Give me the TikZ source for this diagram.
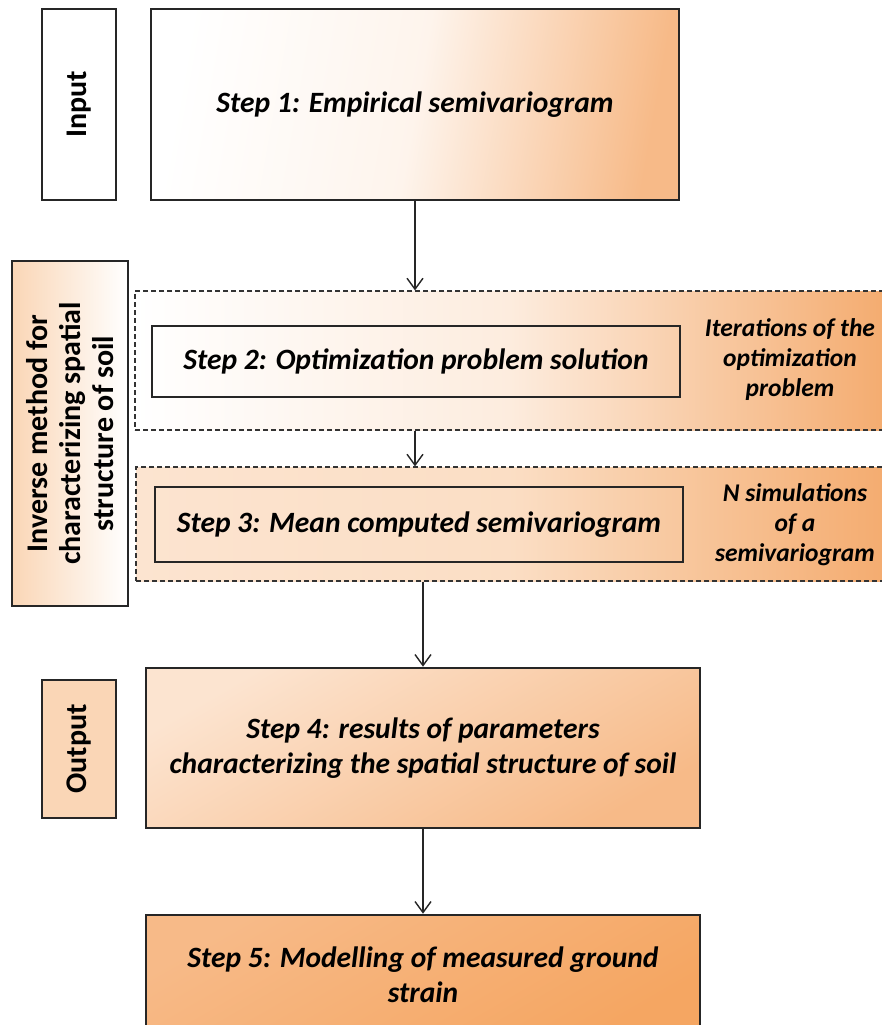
\documentclass[tikz,border=0pt]{standalone}
\usepackage{fontspec}
\setmainfont{Carlito}
\usetikzlibrary{arrows.meta}
\definecolor{peachA}{RGB}{247,186,136}
\definecolor{peachB}{RGB}{244,172,112}
\definecolor{peachL}{RGB}{252,228,208}
\definecolor{peachM}{RGB}{250,214,182}
\definecolor{peachD}{RGB}{245,166,98}
\begin{document}
\begin{tikzpicture}[x=1pt,y=-1pt,
  box/.style={draw=black!85,line width=2.6pt,align=center,inner sep=0pt},
  dbox/.style={draw=black!80,line width=1.2pt,dash pattern=on 5pt off 3pt,inner sep=0pt},
  steptxt/.style={font=\fontsize{29.5}{35}\selectfont\bfseries\itshape},
  sidetxt/.style={font=\fontsize{25.5}{30}\selectfont\bfseries\itshape,align=center},
  vtxt/.style={font=\fontsize{30}{33}\selectfont\bfseries},
  arr/.style={draw=black!85,line width=1.4pt,-{Straight Barb[length=11pt,width=16pt,line width=1.4pt]}}]
\clip (0,0) rectangle (882,1025);
\fill[white] (0,0) rectangle (882,1025);
% input
\node[box,vtxt,rotate=90,minimum width=191,minimum height=74] (input) at (79,104.5) {Input};
\node[box,steptxt,minimum width=528,minimum height=191,left color=white,right color=peachA,middle color=peachL!40,shading angle=80] (s1) at (415,104.5) {Step 1: Empirical semivariogram};
% inverse method
\node[box,vtxt,rotate=90,minimum width=345,minimum height=116,left color=peachM,right color=white,align=center] (inv) at (70,433.5) {Inverse method for\\characterizing spatial\\structure of soil};
% dashed groups
\node[dbox,minimum width=749,minimum height=139,left color=white,right color=peachB,middle color=peachL!70] (d1) at (509.5,360.5) {};
\node[box,steptxt,minimum width=528,minimum height=71] (s2) at (416,361.5) {Step 2: Optimization problem solution};
\node[sidetxt] (it) at (790,360) {Iterations of the\\optimization\\problem};
\node[dbox,minimum width=748,minimum height=114,left color=peachL,right color=peachB,middle color=peachM!80] (d2) at (510,524) {};
\node[box,steptxt,minimum width=528,minimum height=75] (s3) at (419,524.5) {Step 3: Mean computed semivariogram};
\node[sidetxt] (ns) at (795,525) {N simulations\\of a\\semivariogram};
% output
\node[box,vtxt,rotate=90,minimum width=138,minimum height=74,fill=peachM] (out) at (79,749) {Output};
\node[box,steptxt,minimum width=554,minimum height=160,top color=peachL,bottom color=peachA,shading angle=30] (s4) at (423,748) {Step 4: results of parameters\\characterizing the spatial structure of soil};
\node[box,steptxt,minimum width=554,minimum height=120,top color=peachA,bottom color=peachD,shading angle=30] (s5) at (423,975) {Step 5: Modelling of measured ground\\strain};
% arrows
\draw[arr] (s1.south) -- (s1.south |- d1.north);
\draw[arr] (s1.south |- d1.south) -- (s1.south |- d2.north);
\draw[arr] (s4.north |- d2.south) -- (s4.north);
\draw[arr] (s4.south) -- (s5.north);
\end{tikzpicture}
\end{document}
